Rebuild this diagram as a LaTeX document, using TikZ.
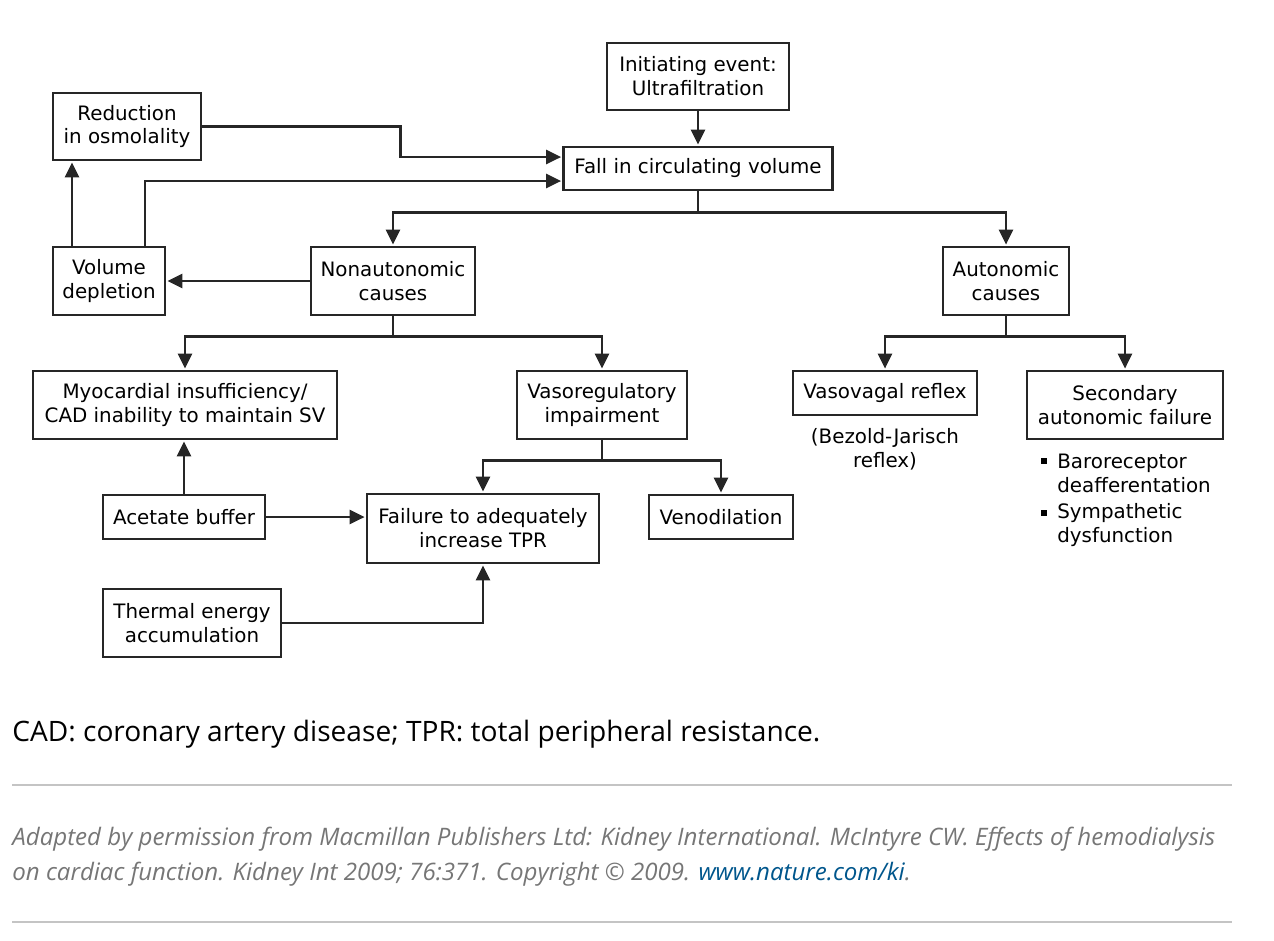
\documentclass[tikz,border=0pt]{standalone}
\usepackage{fontspec}
\setmainfont{DejaVu Sans}
\newfontfamily\capfont{Open Sans}
\usepackage{tikz}
\usetikzlibrary{arrows.meta,positioning,calc}
\usepackage{xcolor}
\definecolor{rulegray}{HTML}{C4C4C4}
\definecolor{notegray}{HTML}{767676}
\definecolor{linkblue}{HTML}{00568C}

\tikzset{
    box/.style={draw=black!85, line width=1.5pt, align=center, inner sep=0pt,
        font=\fontsize{11.3}{13.6}\selectfont},
    note/.style={align=center, inner sep=0pt, font=\fontsize{11.3}{13.6}\selectfont},
    arr/.style={draw=black!85, line width=1.5pt, shorten >=0.6pt,
        -{Triangle[length=3mm, width=2.8mm]}}
}

\begin{document}
\begin{tikzpicture}[x=0.02cm, y=-0.02cm]
    \useasboundingbox (0,0) rectangle (1274,940);

    % Boxes
    \node[box, minimum width=3.64cm, minimum height=1.34cm] (init) at (698,76.5) {Initiating event:\\Ultrafiltration};
    \node[box, minimum width=5.38cm, minimum height=0.86cm] (fall) at (698,168.5) {Fall in circulating volume};
    \node[box, minimum width=2.96cm, minimum height=1.34cm] (redu) at (127,126.5) {Reduction\\in osmolality};
    \node[box, minimum width=2.24cm, minimum height=1.36cm] (vold) at (109,281) {Volume\\depletion};
    \node[box, minimum width=3.28cm, minimum height=1.36cm] (nona) at (393,281) {Nonautonomic\\causes};
    \node[box, minimum width=2.52cm, minimum height=1.36cm] (auto) at (1006,281) {Autonomic\\causes};
    \node[box, minimum width=6.08cm, minimum height=1.36cm] (myo) at (185,405) {Myocardial insufficiency/\\CAD inability to maintain SV};
    \node[box, minimum width=3.40cm, minimum height=1.36cm] (vaso) at (602,405) {Vasoregulatory\\impairment};
    \node[box, minimum width=3.68cm, minimum height=0.88cm] (vvag) at (885,393) {Vasovagal reflex};
    \node[box, minimum width=3.92cm, minimum height=1.36cm] (sec) at (1125,405) {Secondary\\autonomic failure};
    \node[box, minimum width=3.24cm, minimum height=0.88cm] (acet) at (184,517) {Acetate buffer};
    \node[box, minimum width=4.64cm, minimum height=1.38cm] (fail) at (483,528.5) {Failure to adequately\\increase TPR};
    \node[box, minimum width=2.88cm, minimum height=0.88cm] (veno) at (721,517) {Venodilation};
    \node[box, minimum width=3.56cm, minimum height=1.36cm] (therm) at (192,623) {Thermal energy\\accumulation};

    % Notes
    \node[note] (bezold) at (885,449) {(Bezold-Jarisch\\reflex)};
    \node[fill, inner sep=0pt, minimum size=0.11cm] (b1) at (1044,461) {};
    \node[fill, inner sep=0pt, minimum size=0.11cm] (b2) at (1044,513) {};
    \node[note, anchor=west, align=left] (baro) at (1057,473) {Baroreceptor\\deafferentation};
    \node[note, anchor=west, align=left] (symp) at (1057,525) {Sympathetic\\dysfunction};

    % Connectors
    \draw[arr] (init) -- (fall);
    \draw[arr] (fall.south) -- ++(0,21) -| (nona.north);
    \draw[arr] (fall.south) -- ++(0,21) -| (auto.north);
    \draw[arr] (redu.east) -- ++(198,0) |- ([yshift=2.3mm]fall.west);
    \draw[arr] ([xshift=7.2mm]vold.north) |- ([yshift=-2.5mm]fall.west);
    \draw[arr] ([xshift=-7.4mm]vold.north) -- ([xshift=-7.4mm]vold.north |- redu.south);
    \draw[arr] (nona.west) -- (vold.east);
    \draw[arr] (nona.south) -- ++(0,20) -| (myo.north);
    \draw[arr] (nona.south) -- ++(0,20) -| (vaso.north);
    \draw[arr] (auto.south) -- ++(0,20) -| (vvag.north);
    \draw[arr] (auto.south) -- ++(0,20) -| (sec.north);
    \draw[arr] (vaso.south) -- ++(0,20) -| (fail.north);
    \draw[arr] (vaso.south) -- ++(0,20) -| (veno.north);
    \draw[arr] (acet.north) -- (acet.north |- myo.south);
    \draw[arr] (acet.east) -- (acet.east -| fail.west);
    \draw[arr] (therm.east) -| (fail.south);

    % Caption
    \node[anchor=base west, inner sep=0pt, font=\capfont\fontsize{16}{19}\selectfont] (cap) at (12,741)
        {CAD: coronary artery disease; TPR: total peripheral resistance.};
    \draw[rulegray, line width=1.1pt] (12,785) -- (1232,785);
    \node[anchor=base west, inner sep=0pt, text=notegray, font=\capfont\itshape\fontsize{13.7}{16}\selectfont] (src1) at (12,845)
        {Adapted by permission from Macmillan Publishers Ltd: Kidney International. McIntyre CW. Effects of hemodialysis};
    \node[anchor=base west, inner sep=0pt, text=notegray, font=\capfont\itshape\fontsize{13.7}{16}\selectfont] (src2) at (12,880)
        {on cardiac function. Kidney Int 2009; 76:371. Copyright \textcopyright{} 2009. \textcolor{linkblue}{www.nature.com/ki}.};
    \draw[rulegray, line width=1.1pt] (12,922) -- (1232,922);
\end{tikzpicture}
\end{document}
